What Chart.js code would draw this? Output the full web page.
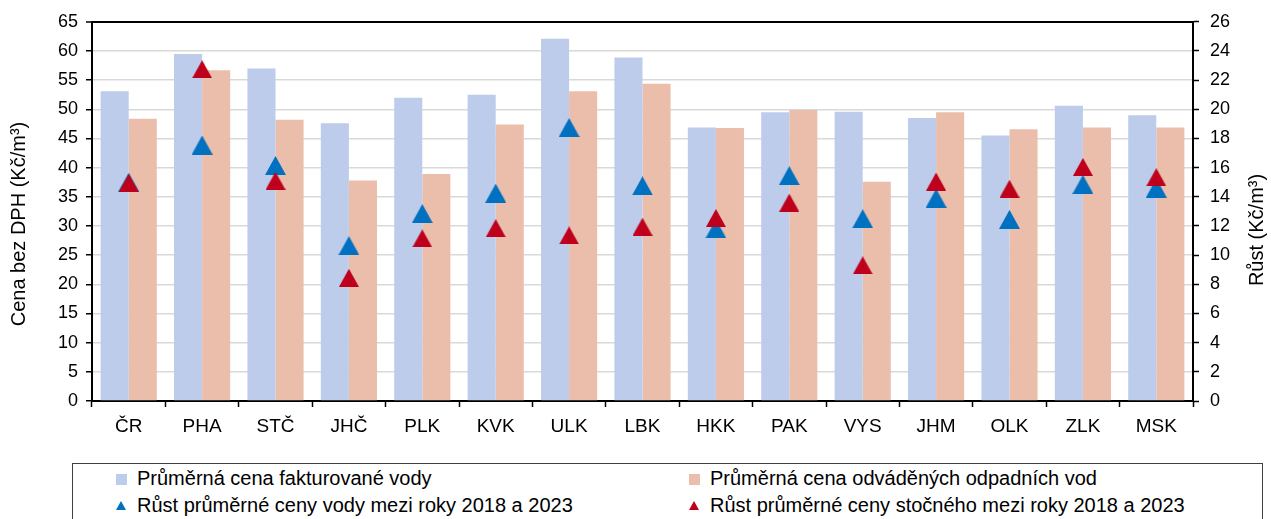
<!DOCTYPE html>
<html>
<head>
<meta charset="utf-8">
<script src="https://cdn.jsdelivr.net/npm/chart.js@4.4.1/dist/chart.umd.min.js"></script>
<style>
  html, body { margin: 0; padding: 0; background: #fff; overflow: hidden; }
  body { width: 1271px; height: 519px; position: relative; font-family: 'Liberation Sans', Arial, sans-serif; }
  #wrap { position: absolute; left: 0; top: 0; width: 1271px; height: 455px; }
  #legend { position: absolute; left: 72px; top: 463px; width: 1189px; height: 70px; border: 1px solid #404040; }
  .item { position: absolute; font-size: 20px; color: #000; white-space: nowrap; line-height: 20px; }
  .sq { position: absolute; width: 11px; height: 11px; }
  .tri { position: absolute; width: 0; height: 0; border-left: 5px solid transparent; border-right: 5px solid transparent; }
</style>
</head>
<body>
<div id="wrap"><canvas id="chart"></canvas></div>
<div id="legend"></div>
<script>
(function () {
  'use strict';

  const categories = ['ČR', 'PHA', 'STČ', 'JHČ', 'PLK', 'KVK', 'ULK', 'LBK', 'HKK', 'PAK', 'VYS', 'JHM', 'OLK', 'ZLK', 'MSK'];
  const waterPrice = [53.1, 59.5, 57.0, 47.6, 52.0, 52.5, 62.1, 58.9, 46.9, 49.5, 49.6, 48.5, 45.5, 50.6, 49.0];
  const sewerPrice = [48.4, 56.7, 48.2, 37.8, 38.9, 47.4, 53.1, 54.4, 46.8, 49.9, 37.6, 49.5, 46.6, 46.9, 46.9];
  const waterGrowth = [15.0, 17.55, 16.15, 10.65, 12.85, 14.25, 18.75, 14.75, 11.8, 15.45, 12.5, 13.9, 12.45, 14.85, 14.6];
  const sewerGrowth = [14.95, 22.75, 15.1, 8.45, 11.15, 11.85, 11.35, 11.95, 12.55, 13.6, 9.3, 15.05, 14.55, 16.05, 15.35];
  const leftTicks = [0, 5, 10, 15, 20, 25, 30, 35, 40, 45, 50, 55, 60, 65];
  const rightTicks = [0, 2, 4, 6, 8, 10, 12, 14, 16, 18, 20, 22, 24, 26];

  const seriesNames = [
    'Průměrná cena fakturované vody',
    'Průměrná cena odváděných odpadních vod',
    'Růst průměrné ceny vody mezi roky 2018 a 2023',
    'Růst průměrné ceny stočného mezi roky 2018 a 2023'
  ];
  const colors = { water: '#BDCCEA', sewer: '#EBBEAC', waterTri: '#0070C0', sewerTri: '#BE001C' };
  const FONT = "'Liberation Sans', Arial, sans-serif";

  // triangle marker image, centred on its bounding box like the original
  function triangle(color, w, h) {
    const c = document.createElement('canvas');
    c.width = w; c.height = h;
    const g = c.getContext('2d');
    g.fillStyle = color;
    g.beginPath();
    g.moveTo(w / 2, 0);
    g.lineTo(w, h);
    g.lineTo(0, h);
    g.closePath();
    g.fill();
    return c;
  }

  const titles = {
    id: 'axisTitles',
    afterDraw(chart) {
      const ctx = chart.ctx;
      ctx.save();
      ctx.fillStyle = '#000';
      ctx.font = '20px ' + FONT;
      ctx.textAlign = 'center';
      ctx.textBaseline = 'middle';
      [[19, 224, 'Cena bez DPH (Kč/m³)'], [1257, 230, 'Růst (Kč/m³)']].forEach(([x, y, t]) => {
        ctx.save();
        ctx.translate(x, y);
        ctx.rotate(-Math.PI / 2);
        ctx.fillText(t, 0, 0);
        ctx.restore();
      });
      ctx.restore();
    }
  };

  new Chart(document.getElementById('chart'), {
    type: 'bar',
    data: {
      labels: categories,
      datasets: [
        { label: seriesNames[0], data: waterPrice, backgroundColor: colors.water, yAxisID: 'y', order: 3, categoryPercentage: 0.765, barPercentage: 1 },
        { label: seriesNames[1], data: sewerPrice, backgroundColor: colors.sewer, yAxisID: 'y', order: 3, categoryPercentage: 0.765, barPercentage: 1 },
        { type: 'line', label: seriesNames[2], data: waterGrowth, yAxisID: 'y1', showLine: false, order: 2,
          pointStyle: triangle(colors.waterTri, 21, 19), pointRadius: 10, pointHoverRadius: 10 },
        { type: 'line', label: seriesNames[3], data: sewerGrowth, yAxisID: 'y1', showLine: false, order: 1,
          pointStyle: triangle(colors.sewerTri, 20, 18), pointRadius: 10, pointHoverRadius: 10 }
      ]
    },
    options: {
      responsive: true,
      maintainAspectRatio: false,
      animation: false,
      events: [],
      layout: { padding: { top: 21, left: 0, right: 0, bottom: 0 } },
      plugins: { legend: { display: false }, tooltip: { enabled: false } },
      scales: {
        x: {
          offset: true,
          grid: { offset: true, drawOnChartArea: false, tickLength: 6, tickColor: '#000', tickWidth: 1.5 },
          border: { color: '#000', width: 2 },
          ticks: { color: '#000', font: { family: FONT, size: 19 }, padding: 8, maxRotation: 0 },
          afterFit(s) { s.height = 54; }
        },
        y: {
          position: 'left',
          min: 0, max: 65,
          afterBuildTicks(s) { s.ticks = leftTicks.map(v => ({ value: v })); },
          grid: {
            color: c => (c.tick && c.tick.value === 65 ? '#000' : '#D9D9D9'),
            lineWidth: c => (c.tick && c.tick.value === 65 ? 2 : 1.5),
            tickLength: 6, tickColor: '#000', tickWidth: 1.5
          },
          border: { color: '#000', width: 2 },
          ticks: { color: '#000', font: { family: FONT, size: 18 }, padding: 8 },
          afterFit(s) { s.width = 92; }
        },
        y1: {
          position: 'right',
          min: 0, max: 26,
          afterBuildTicks(s) { s.ticks = rightTicks.map(v => ({ value: v })); },
          grid: { drawOnChartArea: false, tickLength: 6, tickColor: '#000', tickWidth: 1.5 },
          border: { color: '#000', width: 2 },
          ticks: { color: '#000', font: { family: FONT, size: 18 }, padding: 11 },
          afterFit(s) { s.width = 78; }
        }
      }
    },
    plugins: [titles]
  });

  // legend box, two columns like the source
  const legend = document.getElementById('legend');
  const entries = [
    { name: seriesNames[0], kind: 'sq', color: colors.water, x: 43, y: 4 },
    { name: seriesNames[1], kind: 'sq', color: colors.sewer, x: 616, y: 4 },
    { name: seriesNames[2], kind: 'tri', color: colors.waterTri, x: 43, y: 31 },
    { name: seriesNames[3], kind: 'tri', color: colors.sewerTri, x: 616, y: 31 }
  ];
  entries.forEach(e => {
    const m = document.createElement('div');
    if (e.kind === 'sq') {
      m.className = 'sq';
      m.style.background = e.color;
      m.style.left = e.x + 'px';
      m.style.top = (e.y + 6) + 'px';
    } else {
      m.className = 'tri';
      m.style.borderBottom = '9px solid ' + e.color;
      m.style.left = e.x + 'px';
      m.style.top = (e.y + 6) + 'px';
    }
    legend.appendChild(m);
    const t = document.createElement('div');
    t.className = 'item';
    t.textContent = e.name;
    t.style.left = (e.x + 21) + 'px';
    t.style.top = e.y + 'px';
    legend.appendChild(t);
  });
})();
</script>
</body>
</html>
